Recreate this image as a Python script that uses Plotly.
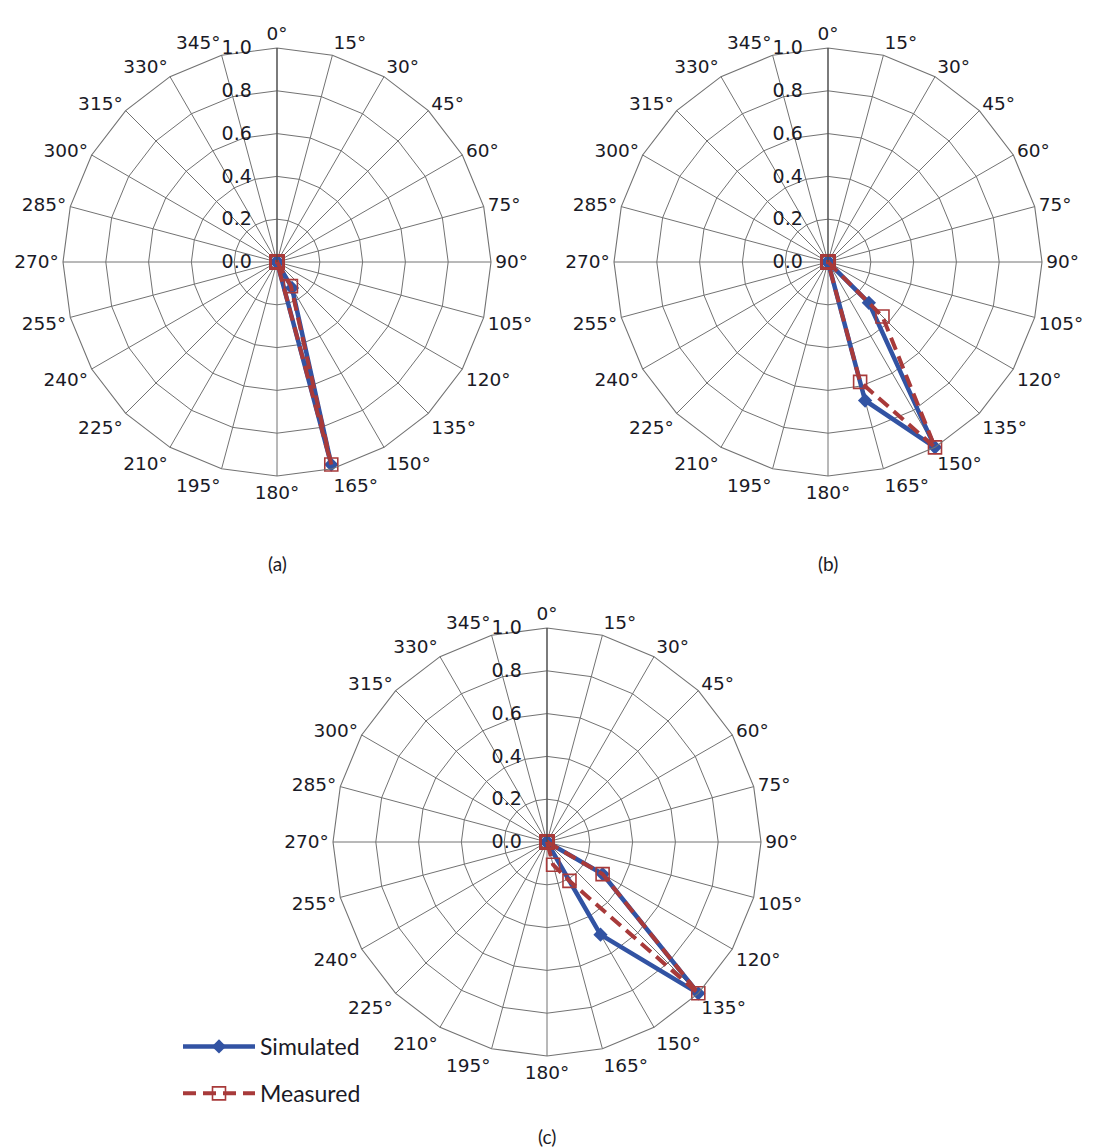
import plotly.graph_objects as go

# Angular categories of the radar plots (degrees, clockwise from north)
ANGLES = list(range(0, 360, 15))
ANGLE_LABELS = [f"{a}°" for a in ANGLES]

RADIAL_TICKS = [0.0, 0.2, 0.4, 0.6, 0.8, 1.0]
RADIAL_TICK_TEXT = ["0.0", "0.2", "0.4", "0.6", "0.8", "1.0"]

# Normalised response per direction (only non-zero directions listed)
sim_a = {150: 0.14, 165: 0.98}
meas_a = {150: 0.13, 165: 0.98}

sim_b = {135: 0.27, 150: 1.0, 165: 0.67}
meas_b = {135: 0.36, 150: 1.0, 165: 0.58}

sim_c = {120: 0.30, 135: 1.0, 150: 0.50}
meas_c = {120: 0.30, 135: 1.0, 150: 0.21, 165: 0.11}

PANEL_LABELS = ["(a)", "(b)", "(c)"]

BLUE = "#3253a3"
RED = "#a83a3a"
GRID = "#727272"
TEXT = "#1a1a26"

# plotly's polygon-grid hit test culls markers lying exactly on the pole,
# so zero readings are drawn a negligible distance off it
POLE_EPS = 1e-4


def full_series(values):
    r = [values.get(a, 0.0) for a in ANGLES]
    r = [v if v > 0 else POLE_EPS for v in r]
    return r + [r[0]]


panels = [(sim_a, meas_a), (sim_b, meas_b), (sim_c, meas_c)]

# Pixel geometry of each polar panel (centre x, centre y) on a 1102x1147 page
W, H = 1102, 1147
R = 214
centres = [(277, 262), (828, 262), (547, 842)]

fig = go.Figure()

for i, (sim, meas) in enumerate(panels):
    sub = "polar" if i == 0 else f"polar{i + 1}"
    show = i == 2
    fig.add_trace(go.Scatterpolar(
        r=full_series(sim),
        theta=ANGLE_LABELS + [ANGLE_LABELS[0]],
        mode="lines+markers",
        name="Simulated",
        legendgroup="sim",
        showlegend=show,
        cliponaxis=False,
        line=dict(color=BLUE, width=4.5),
        marker=dict(symbol="diamond", size=11, color=BLUE),
        subplot=sub,
    ))
    fig.add_trace(go.Scatterpolar(
        r=full_series(meas),
        theta=ANGLE_LABELS + [ANGLE_LABELS[0]],
        mode="lines+markers",
        name="Measured",
        legendgroup="meas",
        showlegend=show,
        cliponaxis=False,
        line=dict(color=RED, width=4, dash="13px,7px"),
        marker=dict(symbol="square-open", size=13, color=RED,
                    line=dict(color=RED, width=1.6)),
        subplot=sub,
    ))

layout_polars = {}
for i, (cx, cy) in enumerate(centres):
    key = "polar" if i == 0 else f"polar{i + 1}"
    layout_polars[key] = dict(
        domain=dict(
            x=[(cx - R) / W, (cx + R) / W],
            y=[1 - (cy + R) / H, 1 - (cy - R) / H],
        ),
        bgcolor="white",
        gridshape="linear",
        angularaxis=dict(
            type="category",
            categoryarray=ANGLE_LABELS,
            rotation=90,
            direction="clockwise",
            showgrid=True,
            gridcolor=GRID,
            gridwidth=1.1,
            showline=True,
            linecolor=GRID,
            linewidth=1.1,
            ticks="",
            tickfont=dict(family="DejaVu Sans", size=18.5, color=TEXT),
        ),
        radialaxis=dict(
            range=[0, 1.0],
            angle=90,
            side="counterclockwise",
            tickvals=RADIAL_TICKS,
            ticktext=RADIAL_TICK_TEXT,
            showgrid=True,
            gridcolor=GRID,
            gridwidth=1.1,
            showline=True,
            linecolor="#4a4a4a",
            linewidth=1.1,
            ticks="outside",
            ticklen=18,
            tickcolor="rgba(0,0,0,0)",
            tickangle=90,
            tickfont=dict(family="DejaVu Sans", size=19, color=TEXT),
        ),
    )

caption_pos = [(277, 563), (828, 563), (547, 1136)]
annotations = [
    dict(text=lab, x=px / W, y=1 - py / H, xref="paper", yref="paper",
         showarrow=False, font=dict(family="Lato", size=19, color=TEXT),
         xanchor="center", yanchor="middle")
    for lab, (px, py) in zip(PANEL_LABELS, caption_pos)
]

fig.update_layout(
    width=W,
    height=H,
    margin=dict(l=0, r=0, t=0, b=0),
    paper_bgcolor="white",
    plot_bgcolor="white",
    showlegend=True,
    legend=dict(
        x=178 / W, y=1 - 1025 / H, xanchor="left", yanchor="top",
        font=dict(family="Lato", size=23, color=TEXT),
        bgcolor="rgba(0,0,0,0)",
        itemwidth=72,
        tracegroupgap=14,
    ),
    annotations=annotations,
    **layout_polars,
)

fig.write_html("out.html")
